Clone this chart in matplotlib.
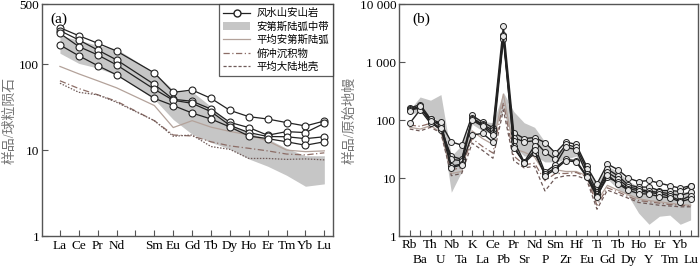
"""Chondrite- and primitive-mantle-normalised patterns of the Fengshuishan andesite."""

import matplotlib

matplotlib.use("Agg")
import matplotlib.pyplot as plt
from matplotlib.lines import Line2D
from matplotlib.patches import Patch
from matplotlib.ticker import FixedFormatter, FixedLocator, NullLocator

plt.rcParams["font.family"] = ["Liberation Serif", "Noto Sans CJK SC"]

# ---- (a) REE, chondrite normalised ----
ree = ["La", "Ce", "Pr", "Nd", "Pm", "Sm", "Eu", "Gd", "Tb", "Dy", "Ho", "Er", "Tm", "Yb", "Lu"]
ree_labels = ["La", "Ce", "Pr", "Nd", "", "Sm", "Eu", "Gd", "Tb", "Dy", "Ho", "Er", "Tm", "Yb", "Lu"]
# None = Pm, not analysed
ree_samples = [
    [265, 214, 175, 142, None, 79, 47, 50, 40, 29, 24.5, 23, 20.9, 19.1, 21.8],
    [245, 191, 146, 112, None, 58, 39, 37, 30, 21, 18.3, 14.9, 16.4, 16.0, 20.5],
    [228, 160, 128, 98, None, 51, 38, 35, 28, 19.4, 16.0, 14.4, 14.3, 13.6, 14.3],
    [167, 125, 96, 75, None, 40, 33, 27, 23, 18.6, 14.6, 13.6, 12.5, 11.4, 12.5],
]
ree_band_hi = [215, 190, 165, 150, None, 80, 50, 48, 32, 20, 16, 13.5, 10.5, 8.6, 8.6]
ree_band_lo = [134, 102, 90, 75, None, 39, 22.7, 15.3, 12.3, 10.3, 7.9, 6.5, 5.1, 3.8, 4.05]
ree_arc = [94, 77, 64, 53, None, 33, 18.3, 22, 18.5, 16.5, 15.0, 12.8, 10.0, 9.6, 9.8]
ree_sed = [64, 52, 44, 37, None, 22, 15.0, 14.6, 12.5, 11.2, 10.5, 9.8, 9.0, 8.8, 9.3]
ree_crust = [60, 47, 44, 36, None, 22, 14.5, 15.0, 11.0, 10.2, 8.0, 8.0, 7.8, 7.9, 7.7]

# ---- (b) spider diagram, primitive mantle normalised ----
tre = ["Rb", "Ba", "Th", "U", "Nb", "Ta", "K", "La", "Ce", "Pb", "Pr", "Sr", "Nd", "P",
       "Sm", "Zr", "Hf", "Eu", "Ti", "Gd", "Tb", "Dy", "Ho", "Y", "Er", "Tm", "Yb", "Lu"]
tre_samples = [
    [160, 185, 105, 88, 42, 37, 120, 92, 74, 4150, 61, 48, 50, 41, 27, 42, 38, 16, 7.9,
     17.5, 14, 10, 8.7, 9.1, 8.2, 7.4, 6.7, 7.4],
    [155, 170, 92, 67, 24, 21, 110, 84, 67, 2900, 50, 42, 44, 28, 21, 38, 34, 14.3, 5.7,
     14.3, 11, 7.6, 7.0, 7.0, 6.1, 6.1, 5.9, 7.2],
    [150, 160, 103, 79, 21, 20, 106, 81, 61, 2750, 44, 19, 36, 12.6, 17, 34, 31, 11.8, 5.4,
     12.6, 9.7, 7.0, 6.5, 5.9, 5.7, 5.4, 5.0, 5.7],
    [88, 150, 88, 92, 16, 17.5, 55, 59, 42, 2500, 36, 18, 27, 11.8, 15, 21, 20, 11, 5.0,
     10.3, 8.5, 6.5, 6.1, 5.6, 5.4, 4.9, 4.1, 5.0],
    [145, 175, 95, 72, 15, 17, 100, 78, 55, 2800, 33, 18.5, 30, 11, 14, 20, 19, 10.5, 4.7,
     11.5, 8.0, 6.2, 5.4, 5.3, 4.8, 4.6, 3.9, 4.4],
]
tre_band_hi = [150, 250, 220, 275, 24, 37, 110, 95, 90, 300, 140, 90, 75, 42, 28, 35, 35,
               17, 8.0, 16, 13, 9.0, 7.0, 6.5, 6.2, 6.0, 5.8, 5.8]
tre_band_lo = [125, 140, 120, 85, 5.7, 13, 85, 65, 57, 150, 36, 24, 24, 19, 19, 21, 24,
               13, 5.3, 9.7, 6.5, 5.0, 2.5, 1.6, 2.2, 2.3, 1.6, 1.9]
tre_arc = [75, 70, 80, 62, 12, 13, 65, 48, 38, 280, 32, 28, 23, 12, 14, 13, 13, 11, 4.0,
           7.5, 6.2, 5.2, 4.4, 4.1, 3.9, 3.7, 3.5, 3.4]
tre_sed = [82, 78, 88, 72, 14, 15, 48, 35, 27, 200, 24, 17, 18, 9, 12, 12, 12.5, 10.5, 3.4,
           6.8, 5.8, 4.8, 4.1, 3.9, 3.7, 3.5, 3.4, 3.3]
tre_crust = [70, 65, 75, 60, 11, 12, 40, 30, 22, 150, 20, 15, 16, 6, 10, 11, 11, 9.5, 2.9,
             6.2, 5.3, 4.5, 3.8, 3.6, 3.4, 3.3, 3.2, 3.2]

BAND = "#c6c6c6"
ARC = "#b3a29a"
SED = "#8c6d66"
CRUST = "#6e5a58"
INK = "#222222"
AXIS = "#555555"


def valid(values):
    xs = [i for i, v in enumerate(values) if v is not None]
    return xs, [values[i] for i in xs]


def style_axis(ax):
    ax.set_yscale("log")
    for spine in ax.spines.values():
        spine.set_color(AXIS)
        spine.set_linewidth(1.0)
    ax.tick_params(which="both", direction="in", length=4, width=0.8, color=AXIS,
                   labelsize=9.5)
    ax.yaxis.set_minor_locator(NullLocator())
    ax.tick_params(axis="y", pad=2)


fig = plt.figure(figsize=(7.0, 2.68), dpi=100)
ax_a = fig.add_axes([0.060, 0.119, 0.416, 0.866])
ax_b = fig.add_axes([0.570, 0.119, 0.427, 0.866])

# (a)
xs, hi = valid(ree_band_hi)
_, lo = valid(ree_band_lo)
ax_a.fill_between(xs, lo, hi, color=BAND, lw=0, zorder=1)
ax_a.plot(*valid(ree_arc), color=ARC, lw=0.9, zorder=2)
ax_a.plot(*valid(ree_sed), color=SED, lw=0.9, ls=(0, (5, 2, 1, 2)), zorder=2)
ax_a.plot(*valid(ree_crust), color=CRUST, lw=0.9, ls=(0, (1.2, 1.2)), zorder=2)
for s in ree_samples:
    ax_a.plot(*valid(s), color=INK, lw=0.9, marker="o", ms=5, mfc="white",
              mec=INK, mew=0.8, zorder=3)
style_axis(ax_a)
ax_a.set_ylim(1, 500)
ax_a.set_xlim(-0.95, 14.47)
ax_a.yaxis.set_major_locator(FixedLocator([1, 10, 100, 500]))
ax_a.set_yticklabels(["1", "10", "100", "500"])
ax_a.set_xticks(range(len(ree)))
ax_a.set_xticklabels(ree_labels)
ax_a.tick_params(axis="x", pad=3)
ax_a.set_ylabel("样品/球粒陨石", color="#777777", fontsize=10, labelpad=2)
ax_a.text(0.03, 0.965, "(a)", transform=ax_a.transAxes, fontsize=11, va="top")

handles = [
    Line2D([], [], color=INK, lw=0.9, marker="o", ms=5, mfc="white", mec=INK),
    Patch(facecolor=BAND, edgecolor="none"),
    Line2D([], [], color=ARC, lw=0.9),
    Line2D([], [], color=SED, lw=0.9, ls=(0, (5, 2, 1, 2))),
    Line2D([], [], color=CRUST, lw=0.9, ls=(0, (2.5, 1.5))),
]
names = ["风水山安山岩", "安第斯陆弧中带", "平均安第斯陆弧", "俯冲沉积物", "平均大陆地壳"]
leg = ax_a.legend(handles, names, loc="upper right", borderaxespad=0, fancybox=False,
                  prop={"family": ["Noto Sans CJK SC"], "size": 7.5},
                  handlelength=2.6, labelspacing=0.3, borderpad=0.4, handletextpad=0.6)
leg.get_frame().set_edgecolor("#333333")
leg.get_frame().set_linewidth(0.9)

# (b)
idx = list(range(len(tre)))
ax_b.fill_between(idx, tre_band_lo, tre_band_hi, color=BAND, lw=0, zorder=1)
ax_b.plot(idx, tre_arc, color=ARC, lw=0.9, zorder=2)
ax_b.plot(idx, tre_sed, color=SED, lw=0.9, ls=(0, (5, 2, 1, 2)), zorder=2)
ax_b.plot(idx, tre_crust, color=CRUST, lw=0.9, ls=(0, (3, 2)), zorder=2)
for s in tre_samples:
    ax_b.plot(idx, s, color=INK, lw=1.0, marker="o", ms=4.3, mfc="#e8e8e8",
              mec=INK, mew=0.7, zorder=3)
style_axis(ax_b)
ax_b.set_ylim(1, 10000)
ax_b.set_xlim(-1.03, 27.7)
ax_b.yaxis.set_major_locator(FixedLocator([1, 10, 100, 1000, 10000]))
ax_b.set_yticklabels(["1", "10", "100", "1 000", "10 000"])
# alternate element names on two rows: even positions on top, odd ones below
ax_b.xaxis.set_major_locator(FixedLocator(idx[0::2]))
ax_b.xaxis.set_major_formatter(FixedFormatter(tre[0::2]))
ax_b.xaxis.set_minor_locator(FixedLocator(idx[1::2]))
ax_b.xaxis.set_minor_formatter(FixedFormatter(tre[1::2]))
ax_b.tick_params(axis="x", which="major", pad=2)
ax_b.tick_params(axis="x", which="minor", pad=13)
ax_b.set_ylabel("样品/原始地幔", color="#777777", fontsize=10, labelpad=2)
ax_b.text(0.045, 0.965, "(b)", transform=ax_b.transAxes, fontsize=11, va="top")

fig.savefig("out.png", dpi=100)
